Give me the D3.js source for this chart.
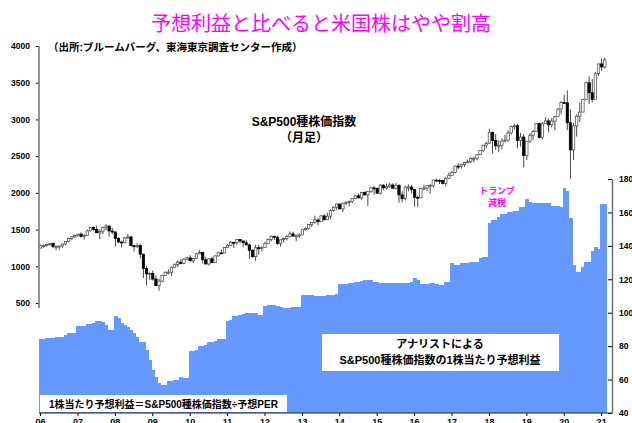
<!DOCTYPE html>
<html>
<head>
<meta charset="utf-8">
<script src="https://d3js.org/d3.v7.min.js"></script>
<style>
  body { margin: 0; background: #fff; }
  text { font-family: "Liberation Sans", "Noto Sans CJK JP", sans-serif; }
  .jp { font-family: "Liberation Sans", "Noto Sans CJK JP", sans-serif; font-weight: bold; }
</style>
</head>
<body>
<div id="chart"></div>
<script>
// S&P500 monthly candles, Jan 2006 - Feb 2021
const open = [
  1248,1280,1281,1295,1311,1270,1270,1277,1304,1336,1378,1401,
  1418,1438,1407,1421,1482,1531,1503,1455,1474,1527,1549,1481,
  1468,1379,1331,1323,1386,1400,1280,1267,1283,1166,969,896,
  903,826,735,798,873,919,919,987,1021,1057,1036,1096,
  1115,1074,1104,1169,1187,1089,1031,1102,1049,1141,1183,1181,
  1258,1286,1327,1326,1364,1345,1321,1292,1219,1131,1253,1247,
  1258,1312,1366,1408,1398,1310,1362,1379,1407,1441,1412,1416,
  1426,1498,1515,1569,1598,1631,1606,1686,1633,1682,1757,1806,
  1848,1783,1859,1872,1884,1924,1960,1931,2003,1972,2018,2068,
  2059,1995,2105,2068,2086,2107,2063,2104,1972,1920,2079,2080,
  2044,1940,1932,2060,2065,2097,2099,2174,2171,2168,2126,2199,
  2239,2279,2364,2363,2384,2412,2423,2470,2472,2519,2575,2648,
  2674,2824,2714,2641,2648,2705,2718,2816,2902,2914,2712,2760,
  2507,2704,2784,2834,2946,2752,2942,2980,2926,2977,3038,3141,
  3231,3226,2954,2585,2912,3044,3100,3271,3500,3363,3270,3622,
  3756,3714
];
const high = [
  1295,1297,1310,1319,1326,1284,1280,1306,1340,1389,1407,1431,
  1441,1462,1438,1499,1535,1541,1556,1504,1539,1576,1552,1524,
  1472,1396,1350,1397,1440,1405,1292,1314,1303,1168,1007,918,
  943,875,832,875,930,956,996,1040,1081,1101,1113,1130,
  1151,1113,1181,1220,1200,1131,1115,1130,1150,1196,1227,1263,
  1303,1344,1332,1370,1371,1345,1357,1307,1230,1293,1292,1270,
  1333,1378,1420,1422,1415,1363,1392,1426,1475,1471,1434,1448,
  1509,1530,1570,1598,1687,1654,1698,1710,1730,1776,1814,1850,
  1851,1867,1884,1897,1925,1968,1991,2006,2019,2019,2076,2093,
  2072,2119,2118,2125,2135,2130,2133,2113,2021,2094,2116,2105,
  2044,1962,2072,2112,2103,2121,2178,2194,2187,2170,2214,2278,
  2301,2371,2401,2398,2419,2454,2484,2491,2520,2582,2657,2695,
  2873,2835,2801,2717,2742,2791,2848,2917,2941,2940,2816,2800,
  2708,2813,2860,2950,2955,2964,3028,3014,3022,3050,3154,3248,
  3338,3394,3136,2954,3068,3233,3280,3514,3588,3550,3646,3760,
  3830,3840
];
const low = [
  1245,1253,1268,1280,1245,1220,1224,1253,1290,1327,1360,1385,
  1403,1390,1364,1416,1476,1484,1454,1371,1440,1490,1406,1436,
  1270,1316,1257,1312,1373,1272,1200,1248,1107,840,741,815,
  805,734,667,784,867,889,870,978,991,1029,1029,1086,
  1071,1045,1102,1166,1040,1028,1011,1040,1048,1131,1173,1181,
  1257,1285,1249,1294,1311,1259,1283,1102,1115,1075,1158,1202,
  1258,1312,1340,1358,1291,1267,1325,1354,1396,1403,1343,1385,
  1426,1485,1501,1536,1581,1560,1605,1627,1633,1646,1746,1768,
  1770,1737,1834,1814,1862,1916,1930,1905,1964,1821,2001,1973,
  1988,1981,2040,2048,2068,2057,2045,1868,1872,1894,2020,1994,
  1812,1810,1932,2034,2026,1992,2074,2148,2120,2113,2084,2188,
  2245,2267,2322,2329,2353,2406,2407,2418,2446,2520,2557,2605,
  2683,2533,2586,2553,2594,2691,2699,2796,2864,2604,2631,2347,
  2444,2681,2722,2848,2751,2729,2952,2822,2891,2856,3050,3070,
  3214,2855,2192,2447,2766,2966,3101,3280,3209,3233,3279,3594,
  3662,3695
];
const close = [
  1280,1281,1295,1311,1270,1270,1277,1304,1336,1378,1401,1418,
  1438,1407,1421,1482,1531,1503,1455,1474,1527,1549,1481,1468,
  1379,1331,1323,1386,1400,1280,1267,1283,1166,969,896,903,
  826,735,798,873,919,919,987,1021,1057,1036,1096,1115,
  1074,1104,1169,1187,1089,1031,1102,1049,1141,1183,1181,1258,
  1286,1327,1326,1364,1345,1321,1292,1219,1131,1253,1247,1258,
  1312,1366,1408,1398,1310,1362,1379,1407,1441,1412,1416,1426,
  1498,1515,1569,1598,1631,1606,1686,1633,1682,1757,1806,1848,
  1783,1859,1872,1884,1924,1960,1931,2003,1972,2018,2068,2059,
  1995,2105,2068,2086,2107,2063,2104,1972,1920,2079,2080,2044,
  1940,1932,2060,2065,2097,2099,2174,2171,2168,2126,2199,2239,
  2279,2364,2363,2384,2412,2423,2470,2472,2519,2575,2648,2674,
  2824,2714,2641,2648,2705,2718,2816,2902,2914,2712,2760,2507,
  2704,2784,2834,2946,2752,2942,2980,2926,2977,3038,3141,3231,
  3226,2954,2585,2912,3044,3100,3271,3500,3363,3270,3622,3756,
  3714,3810
];
// analysts' forward EPS (right axis)
const eps = [
  84.3,84.3,84.9,84.9,84.9,85.6,85.6,85.6,86.6,87.8,87.8,87.8,
  92,92,92,93,93,94,95.2,95.2,94.4,92.6,89.6,89.6,
  98.2,96.6,94,92.6,91.6,89.6,87.6,85.3,82.6,82.6,77.7,71.7,
  65.7,61.5,58,56.7,56.7,59,59,59.7,59.7,61.5,61,61,
  77,77,77.5,80,80,80.5,82.5,82.5,83,84,84,84,
  95,95.5,98,98,98.5,99,100,100,100,100,98.6,98.6,
  104,104.5,104.6,104.6,104,103.5,102.8,102.8,103,103.4,103.4,103.2,
  110.6,110.8,110.5,110.3,110.2,110,110,110.2,110.4,110.6,110.8,111,
  117,117.2,117.4,117.7,117.7,118.2,118.6,119,119.5,119.5,119.3,118.5,
  118.2,117.7,117.7,117.5,117.6,117.7,117.7,117.7,117.6,117.8,118,118.2,
  120.7,119.5,117,117,117.3,117.7,117.7,117.2,116.6,116.8,118.3,118.3,
  129.5,128.5,128.5,130,130,130,130.5,130.5,130.5,132.9,133.5,133.5,
  153.4,155.4,155.4,157.4,158.8,158.8,160.4,160.4,161,161,163.4,163.4,
  167.8,166.4,165.8,165.8,165.6,165.4,165.4,165.4,164,164,164,163.4,
  174.5,173,156.6,128.5,124.3,124.3,127.3,130.3,130.3,137,139.2,138,
  165,165
];
const yearLabels = ["06","07","08","09","10","11","12","13","14","15","16","17","18","19","20","21"];
const leftTicks = [500,1000,1500,2000,2500,3000,3500,4000];
const rightTicks = [40,60,80,100,120,140,160,180];

const months = d3.range(close.length);   // month index from Jan 2006

const W = 632, H = 423;
const svg = d3.select("#chart").append("svg")
  .attr("width", W).attr("height", H);

const x = d3.scaleBand().domain(months).range([39, 606.3]).padding(0);
const yL = d3.scaleLinear().domain([500, 4000]).range([303, 46]);
const yR = d3.scaleLinear().domain([40, 180]).range([413, 179]);
const bw = x.bandwidth();

// EPS bars
svg.append("g")
  .selectAll("rect")
  .data(months)
  .join("rect")
  .attr("x", d => x(d))
  .attr("y", d => yR(eps[d]))
  .attr("width", bw + 0.6)
  .attr("height", d => yR(40) - yR(eps[d]))
  .attr("fill", "#6699ff")
  .attr("shape-rendering", "crispEdges");

// candles
const cg = svg.append("g");
cg.selectAll("line")
  .data(months)
  .join("line")
  .attr("x1", d => x(d) + bw / 2)
  .attr("x2", d => x(d) + bw / 2)
  .attr("y1", d => yL(high[d]))
  .attr("y2", d => yL(low[d]))
  .attr("stroke", "#333")
  .attr("stroke-width", 0.9);
cg.selectAll("rect")
  .data(months)
  .join("rect")
  .attr("x", d => x(d) + bw / 2 - 1.2)
  .attr("width", 2.4)
  .attr("y", d => yL(Math.max(open[d], close[d])))
  .attr("height", d => Math.max(1, Math.abs(yL(open[d]) - yL(close[d]))))
  .attr("fill", d => close[d] >= open[d] ? "#fff" : "#000")
  .attr("stroke", d => close[d] >= open[d] ? "#444" : "#000")
  .attr("stroke-width", 0.7);

// left axis
const la = svg.append("g").attr("transform", "translate(39,0)")
  .call(d3.axisLeft(yL).tickValues(leftTicks).tickSize(3).tickPadding(6).tickFormat(d3.format("d")));
la.select(".domain").remove();
la.selectAll("text").attr("font-size", 8.5).attr("font-weight", "bold").attr("fill", "#000");
svg.append("line").attr("x1", 39).attr("x2", 39).attr("y1", 46).attr("y2", 308)
  .attr("stroke", "#888").attr("stroke-width", 1.8);

// right axis
const ra = svg.append("g").attr("transform", "translate(612,0)")
  .call(d3.axisRight(yR).tickValues(rightTicks).tickSize(-4).tickPadding(7).tickSizeOuter(0));
ra.select(".domain").attr("stroke", "#666").attr("stroke-width", 1.4);
ra.selectAll("text").attr("font-size", 8.5).attr("font-weight", "bold").attr("fill", "#000");

// bottom axis
const jan = months.filter(d => d % 12 === 0);
const ba = svg.append("g").attr("transform", "translate(0,413)")
  .call(d3.axisBottom(x).tickValues(jan).tickSize(3).tickPadding(3)
    .tickFormat(d => yearLabels[d / 12]));
ba.select(".domain").remove();
ba.selectAll("text").attr("font-size", 9).attr("font-weight", "bold").attr("fill", "#000");
svg.append("line").attr("x1", 39).attr("x2", 612).attr("y1", 413).attr("y2", 413)
  .attr("stroke", "#222").attr("stroke-width", 1.2);

// title and notes
svg.append("text")
  .attr("x", 321).attr("y", 31)
  .attr("text-anchor", "middle")
  .style("font-family", "'Noto Sans CJK JP'")
  .attr("font-size", 20).attr("fill", "#ff00ff")
  .text("予想利益と比べると米国株はやや割高");

svg.append("text").attr("class", "jp")
  .attr("x", 48).attr("y", 51).attr("font-size", 10.5)
  .text("（出所:ブルームバーグ、東海東京調査センター作成）");

svg.append("text").attr("class", "jp")
  .attr("x", 304).attr("y", 126).attr("text-anchor", "middle").attr("font-size", 12)
  .text("S&P500種株価指数");
svg.append("text").attr("class", "jp")
  .attr("x", 304).attr("y", 142).attr("text-anchor", "middle").attr("font-size", 12)
  .text("（月足）");

svg.append("text").attr("class", "jp")
  .attr("x", 497).attr("y", 194).attr("text-anchor", "middle").attr("font-size", 9)
  .attr("fill", "#ff00ff").text("トランプ");
svg.append("text").attr("class", "jp")
  .attr("x", 497).attr("y", 206).attr("text-anchor", "middle").attr("font-size", 9)
  .attr("fill", "#ff00ff").text("減税");

svg.append("rect").attr("x", 322).attr("y", 334).attr("width", 237).attr("height", 37).attr("fill", "#fff");
svg.append("text").attr("class", "jp")
  .attr("x", 440).attr("y", 348).attr("text-anchor", "middle").attr("font-size", 11)
  .text("アナリストによる");
svg.append("text").attr("class", "jp")
  .attr("x", 440).attr("y", 364).attr("text-anchor", "middle").attr("font-size", 11)
  .text("S&P500種株価指数の1株当たり予想利益");

svg.append("rect").attr("x", 40).attr("y", 395).attr("width", 247).attr("height", 17).attr("fill", "#fff");
svg.append("text").attr("class", "jp")
  .attr("x", 163.5).attr("y", 408).attr("text-anchor", "middle").attr("font-size", 10)
  .text("1株当たり予想利益＝S&P500種株価指数÷予想PER");
</script>
</body>
</html>
